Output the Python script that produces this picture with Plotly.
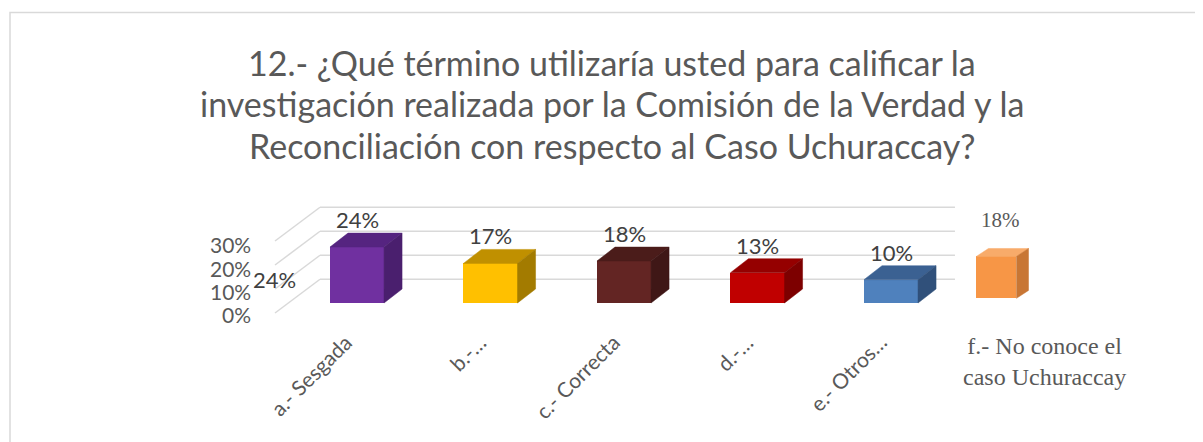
import plotly.graph_objects as go

# ---------------- data ----------------
categories = ["a.- Sesgada", "b.-…", "c.- Correcta", "d.-…", "e.- Otros…",
              "f.- No conoce el<br>caso Uchuraccay"]
values = [24, 17, 18, 13, 10, 18]
value_labels = ["24%", "17%", "18%", "13%", "10%", "18%"]
stray_label = "24%"
tick_values = [0, 10, 20, 30]
tick_text = ["0%", "10%", "20%", "30%"]
title_lines = ["12.- ¿Qué término utilizaría usted para calificar la",
               "investigación realizada por la Comisión de la Verdad y la",
               "Reconciliación con respecto al Caso Uchuraccay?"]

front_colors = ["#7030A0", "#FFC000", "#632523", "#C00000", "#4F81BD", "#F79646"]
top_colors = ["#552480", "#C09000", "#4B1C1A", "#950000", "#3B6192", "#F8AB6A"]
side_colors = ["#4A1F6E", "#A37B00", "#3F1716", "#7D0000", "#30507A", "#C87634"]

# ---------------- geometry / style ----------------
W, H = 1203, 442
OFF = 8               # page margin around the figure
PX_X = 133.5          # pixels per category unit
PX_Y = 2.33           # pixels per percent
X0_PX, Y0_PX = 357 - OFF, 303 - OFF
x_range = [-X0_PX / PX_X, (W - X0_PX) / PX_X]
y_range = [-(H - Y0_PX) / PX_Y, Y0_PX / PX_Y]

BAR_W = 0.405
DX, DY = 0.135, 6.0
F_W, F_DX, F_DY, F_SHIFT, F_BASE = 0.30, 0.09, 3.4, -0.21, 2.0
GRID_COLOR = "#D9D9D9"
TEXT_COLOR = "#595959"
LABEL_COLOR = "#404040"
SANS = "Lato, 'Open Sans', sans-serif"
SERIF = "'Liberation Serif', 'Times New Roman', serif"

n = len(values)
xpos = [float(i) for i in range(n)]
xpos[-1] += F_SHIFT
widths = [BAR_W] * (n - 1) + [F_W]
bases = [0.0] * (n - 1) + [F_BASE]
dxs = [DX] * (n - 1) + [F_DX]
dys = [DY] * (n - 1) + [F_DY]

fig = go.Figure()

# front faces
fig.add_trace(go.Bar(x=xpos, y=values, base=bases, width=widths,
                     marker=dict(color=front_colors, line=dict(width=0)),
                     hoverinfo="skip", showlegend=False))

# top and side faces
for i in range(n):
    xl = xpos[i] - widths[i] / 2
    xr = xpos[i] + widths[i] / 2
    yb = bases[i]
    yt = bases[i] + values[i]
    dx, dy = dxs[i], dys[i]
    fig.add_trace(go.Scatter(
        x=[xl, xr, xr + dx, xl + dx, xl], y=[yt, yt, yt + dy, yt + dy, yt],
        fill="toself", fillcolor=top_colors[i], mode="lines",
        line=dict(width=0.5, color=top_colors[i]), hoverinfo="skip", showlegend=False))
    fig.add_trace(go.Scatter(
        x=[xr, xr + dx, xr + dx, xr, xr], y=[yb, yb + dy, yt + dy, yt, yb],
        fill="toself", fillcolor=side_colors[i], mode="lines",
        line=dict(width=0.5, color=side_colors[i]), hoverinfo="skip", showlegend=False))

# gridlines on back wall and left wall (drawn below the bars)
WALL_FRONT_X, WALL_BACK_X, WALL_END_X = -0.614, -0.277, 4.479
shapes = []
for g in tick_values:
    yb = g * 1.03 + 10.2
    yf = yb - 14.5
    shapes.append(dict(type="line", xref="x", yref="y", x0=WALL_BACK_X, x1=WALL_END_X,
                       y0=yb, y1=yb, line=dict(color=GRID_COLOR, width=1.5), layer="below"))
    shapes.append(dict(type="line", xref="x", yref="y", x0=WALL_FRONT_X, x1=WALL_BACK_X,
                       y0=yf, y1=yb, line=dict(color=GRID_COLOR, width=1.5), layer="below"))
# chart frame
shapes.append(dict(type="rect", xref="paper", yref="paper", x0=(10 - OFF) / W, x1=1.05,
                   y0=-0.05, y1=1 - (12.5 - OFF) / H, line=dict(color=GRID_COLOR, width=1.5),
                   layer="below"))

annotations = []
# title
for k, line in enumerate(title_lines):
    annotations.append(dict(text=line, xref="paper", yref="paper", x=(612 - OFF) / W,
                            y=1 - (62 - OFF + 41.5 * k) / H, xanchor="center", yanchor="middle",
                            showarrow=False, font=dict(family=SANS, size=34, color=TEXT_COLOR)))
# y tick labels
for g, t in zip(tick_values, tick_text):
    annotations.append(dict(text=t, x=-0.779, y=g - 5.0, xref="x", yref="y",
                            xanchor="right", yanchor="middle", showarrow=False,
                            font=dict(family=SANS, size=21, color=TEXT_COLOR)))
# stray label
annotations.append(dict(text=stray_label, x=-0.62, y=10.2, xref="x", yref="y",
                        xanchor="center", yanchor="middle", showarrow=False,
                        font=dict(family=SANS, size=22, color=LABEL_COLOR)))
# data labels
for i in range(n - 1):
    annotations.append(dict(text=value_labels[i], x=xpos[i], y=values[i] + DY,
                            xref="x", yref="y", xanchor="center", yanchor="bottom",
                            yshift=-2, showarrow=False,
                            font=dict(family=SANS, size=22, color=LABEL_COLOR)))
annotations.append(dict(text=value_labels[-1], x=xpos[-1] + 0.03, y=bases[-1] + values[-1] + F_DY,
                        xref="x", yref="y", xanchor="center", yanchor="bottom", yshift=14,
                        showarrow=False, font=dict(family=SERIF, size=21, color=TEXT_COLOR)))
# category labels
for i in range(n - 1):
    annotations.append(dict(text=categories[i], x=xpos[i] + 0.02, y=-10.0,
                            xref="x", yref="y", xanchor="right", yanchor="top",
                            textangle=-45, showarrow=False,
                            font=dict(family=SANS, size=21, color=TEXT_COLOR)))
annotations.append(dict(text=categories[-1], x=xpos[-1] + 0.36, y=-25.3,
                        xref="x", yref="y", xanchor="center", yanchor="middle",
                        showarrow=False, align="center",
                        font=dict(family=SERIF, size=24, color=TEXT_COLOR)))

fig.update_layout(
    width=W, height=H, autosize=False,
    margin=dict(l=0, r=0, t=0, b=0),
    paper_bgcolor="white", plot_bgcolor="white",
    xaxis=dict(range=x_range, visible=False, fixedrange=True),
    yaxis=dict(range=y_range, visible=False, fixedrange=True),
    shapes=shapes, annotations=annotations, bargap=0,
    showlegend=False,
)

fig.write_html("out.html")
